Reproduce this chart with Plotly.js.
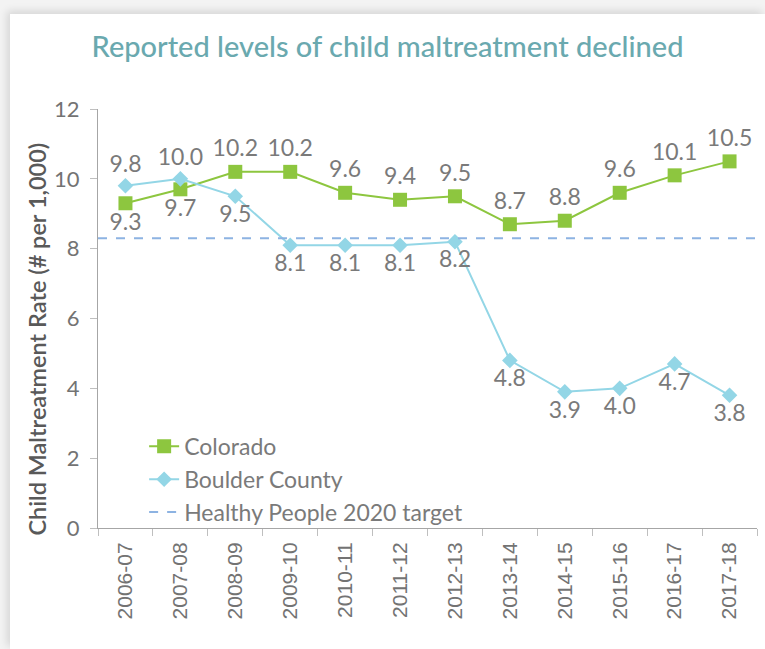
<!DOCTYPE html>
<html>
<head>
<meta charset="utf-8">
<script src="https://cdn.plot.ly/plotly-3.0.1.min.js"></script>
<style>
  html, body { margin: 0; padding: 0; width: 765px; height: 649px; overflow: hidden; background: #f3f3f3; }
  #wrap { position: absolute; left: 10px; top: 14px; width: 755px; height: 635px; background: #fff;
          box-shadow: -3px -3px 8px rgba(0,0,0,0.12); }
  #chart { width: 755px; height: 635px; }
</style>
</head>
<body>
<div id="wrap"><div id="chart"></div></div>
<script>
const categories = ["2006-07","2007-08","2008-09","2009-10","2010-11","2011-12","2012-13","2013-14","2014-15","2015-16","2016-17","2017-18"];
const colorado = [9.3, 9.7, 10.2, 10.2, 9.6, 9.4, 9.5, 8.7, 8.8, 9.6, 10.1, 10.5];
const boulder = [9.8, 10.0, 9.5, 8.1, 8.1, 8.1, 8.2, 4.8, 3.9, 4.0, 4.7, 3.8];
const target = 8.3;
const coloradoLabelPos = ["bottom","bottom","top","top","top","top","top","top","top","top","top","top"];
const boulderLabelPos = ["top","top","bottom","bottom","bottom","bottom","bottom","bottom","bottom","bottom","bottom","bottom"];
const yTitle = "Child Maltreatment Rate (# per 1,000)";

const labelFont = {family: "Lato, 'Open Sans', sans-serif", size: 23, color: "#7a7a7a"};

const traces = [
  {
    x: categories, y: colorado, name: "Colorado", type: "scatter", mode: "lines+markers+text",
    line: {color: "#8dc63f", width: 2},
    marker: {symbol: "square", size: 14, color: "#8dc63f"},
    text: colorado.map(v => v.toFixed(1)),
    textposition: coloradoLabelPos.map(p => p + " center"),
    textfont: labelFont, cliponaxis: false
  },
  {
    x: categories, y: boulder, name: "Boulder County", type: "scatter", mode: "lines+markers+text",
    line: {color: "#93d6e6", width: 2},
    marker: {symbol: "diamond", size: 12, color: "#93d6e6"},
    text: boulder.map(v => v.toFixed(1)),
    textposition: boulderLabelPos.map(p => p + " center"),
    textfont: labelFont, cliponaxis: false
  },
  {
    x: [0, 1], y: [target, target], name: "Healthy People 2020 target", type: "scatter", mode: "lines",
    xaxis: "x2", line: {color: "#8db3e2", width: 2, dash: "dash"}
  }
];

const layout = {
  width: 755, height: 635,
  margin: {l: 88, r: 8, t: 95, b: 121},
  paper_bgcolor: "#ffffff", plot_bgcolor: "#ffffff",
  font: {family: "Lato, 'Open Sans', sans-serif", color: "#595959"},
  title: {
    text: "Reported levels of child maltreatment declined",
    font: {family: "Lato, sans-serif", size: 29, color: "#6aa9af", weight: 500},
    x: 0.5, xanchor: "center", y: 0.948, yanchor: "middle"
  },
  showlegend: true,
  legend: {
    x: 0.07, y: -0.014, xanchor: "left", yanchor: "bottom",
    bgcolor: "rgba(255,255,255,0)", font: {size: 23, color: "#7a7a7a"},
    tracegroupgap: 0, itemwidth: 30
  },
  xaxis: {
    type: "category", showgrid: false, zeroline: false,
    showline: true, linecolor: "#a6a6a6", linewidth: 1,
    ticks: "outside", tickson: "boundaries", ticklen: 7, tickcolor: "#bfbfbf",
    tickangle: -90, ticklabelstandoff: 5,
    tickfont: {family: "'Liberation Sans', Arial, sans-serif", size: 21, color: "#737373"},
    range: [-0.5, 11.5]
  },
  xaxis2: {overlaying: "x", range: [0, 1], visible: false, fixedrange: true},
  yaxis: {
    range: [0, 12], dtick: 2, showgrid: false, zeroline: false,
    showline: true, linecolor: "#a6a6a6", linewidth: 1,
    ticks: "outside", ticklen: 7, tickcolor: "#bfbfbf", ticklabelstandoff: 6,
    tickfont: {size: 22, color: "#737373"}
  },
  annotations: [{
    text: yTitle, textangle: -90, showarrow: false,
    xref: "paper", yref: "paper", x: -0.0926, y: 0.452, xanchor: "center", yanchor: "middle",
    font: {size: 23.5, color: "#595959", weight: 600}
  }]
};

Plotly.newPlot("chart", traces, layout, {displayModeBar: false, staticPlot: true});
</script>
</body>
</html>
